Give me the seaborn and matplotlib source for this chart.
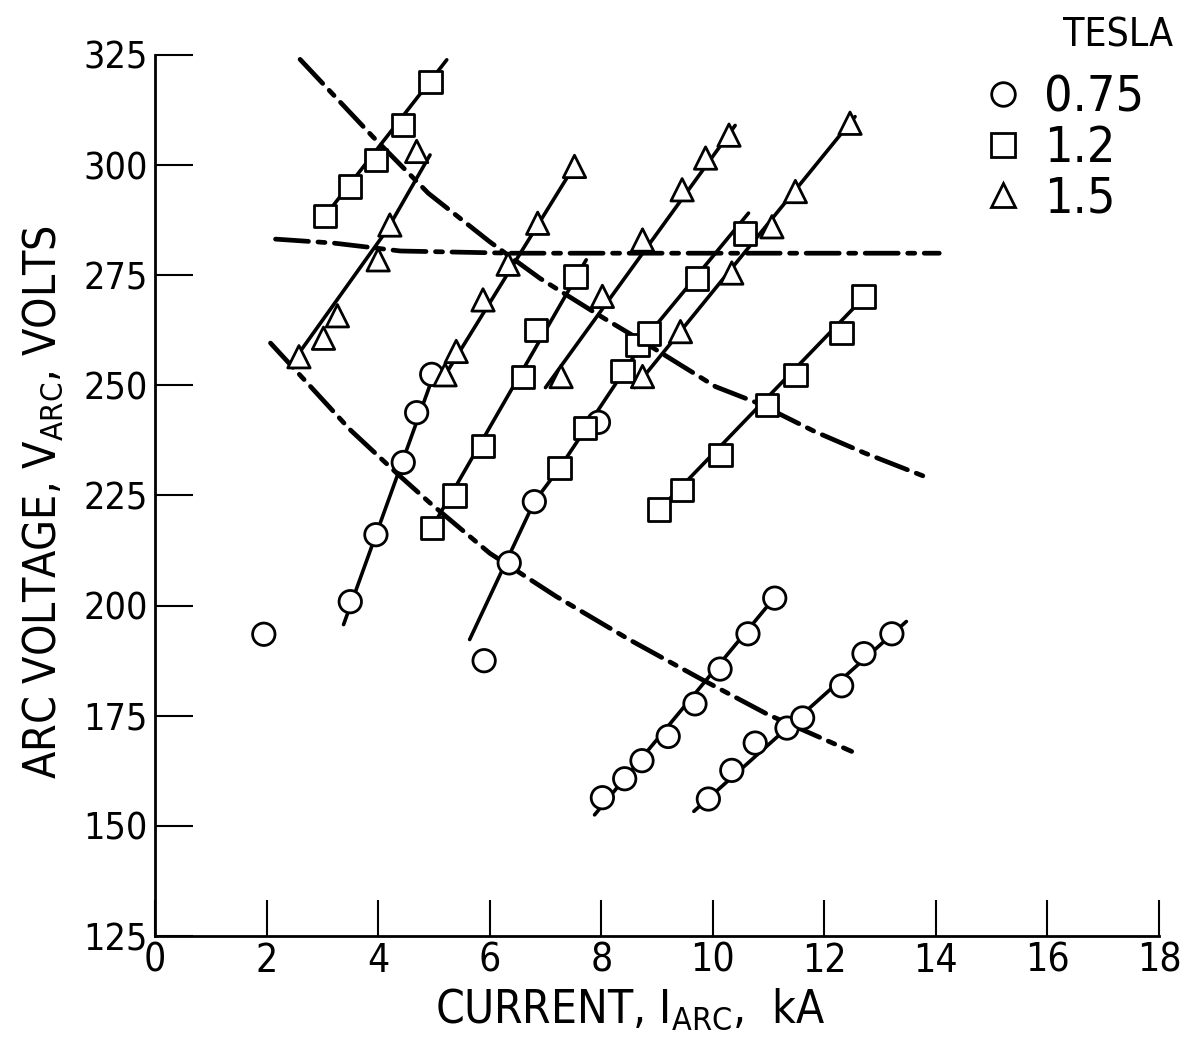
import numpy as np
import pandas as pd
import seaborn as sns
import matplotlib
matplotlib.use("Agg")
import matplotlib.pyplot as plt
from matplotlib import font_manager
from matplotlib.lines import Line2D

# ---------------- data ----------------
tesla_levels = ["0.75", "1.2", "1.5"]
tesla_markers = ["o", "s", "^"]

# 0.75 T (circles)
circ_single_x = [1.95, 5.90]
circ_single_y = [193.5, 187.5]
circ_a_x = [3.50, 3.96, 4.45, 4.69, 4.96]
circ_a_y = [200.9, 216.1, 232.5, 243.8, 252.5]
circ_b_x = [6.35, 6.80, 7.95]
circ_b_y = [209.7, 223.6, 241.6]
circ_c_x = [8.02, 8.42, 8.73, 9.20, 9.68, 10.13, 10.63, 11.11]
circ_c_y = [156.4, 160.7, 164.8, 170.3, 177.7, 185.6, 193.6, 201.7]
circ_d_x = [9.92, 10.34, 10.76, 11.33, 11.61, 12.31, 12.71, 13.21]
circ_d_y = [156.1, 162.6, 168.8, 172.2, 174.5, 181.8, 189.1, 193.6]

# 1.2 T (squares)
sq_a_x = [3.05, 3.50, 3.96, 4.45, 4.94]
sq_a_y = [288.5, 295.1, 301.2, 309.1, 318.9]
sq_b_x = [4.96, 5.37, 5.88, 6.60, 6.83, 7.54]
sq_b_y = [217.6, 225.0, 236.3, 251.9, 262.6, 274.7]
sq_c_x = [7.25, 7.71, 8.38, 8.65, 8.86, 9.72, 10.58]
sq_c_y = [231.2, 240.3, 253.2, 259.2, 261.8, 274.3, 284.5]
sq_d_x = [9.04, 9.45, 10.14, 10.97, 11.48, 12.31, 12.70]
sq_d_y = [221.8, 226.3, 234.2, 245.6, 252.4, 261.9, 270.2]

# 1.5 T (triangles)
tri_a_x = [2.58, 3.02, 3.27, 4.00, 4.21, 4.69]
tri_a_y = [256.5, 260.7, 265.8, 278.5, 286.4, 303.1]
tri_b_x = [5.20, 5.40, 5.88, 6.33, 6.86, 7.52]
tri_b_y = [252.4, 257.7, 269.4, 277.5, 286.8, 299.7]
tri_c_x = [7.28, 8.02, 8.74, 9.45, 9.87, 10.29]
tri_c_y = [252.0, 270.2, 283.0, 294.4, 301.6, 306.8]
tri_d_x = [8.74, 9.42, 10.34, 11.06, 11.48, 12.46]
tri_d_y = [252.0, 262.2, 275.5, 286.0, 294.0, 309.5]

# solid faired lines through the groups
fit_circ_a_x = [3.38, 5.05]
fit_circ_a_y = [195.7, 254.3]
fit_circ_b_x = [5.64, 6.80, 7.25, 8.86, 10.64]
fit_circ_b_y = [192.3, 223.6, 231.2, 261.8, 289.1]
fit_circ_c_x = [7.88, 11.15]
fit_circ_c_y = [152.5, 202.5]
fit_circ_d_x = [9.66, 13.47]
fit_circ_d_y = [153.3, 196.4]
fit_sq_a_x = [3.05, 5.23]
fit_sq_a_y = [288.5, 323.9]
fit_sq_b_x = [4.96, 7.73]
fit_sq_b_y = [217.6, 278.5]
fit_sq_d_x = [9.04, 12.75]
fit_sq_d_y = [221.8, 270.5]
fit_tri_a_x = [2.45, 4.16, 4.93]
fit_tri_a_y = [255.0, 285.3, 302.3]
fit_tri_b_x = [5.15, 7.55]
fit_tri_b_y = [251.3, 300.5]
fit_tri_c_x = [7.00, 10.40]
fit_tri_c_y = [249.5, 309.0]
fit_tri_d_x = [8.60, 12.55]
fit_tri_d_y = [249.5, 311.0]

# dash-dot cross curves
dash_top_x = [2.60, 3.90, 4.90, 6.00, 6.90, 8.00, 8.70, 10.05, 10.80, 11.83, 12.73, 13.80]
dash_top_y = [324.0, 306.5, 293.6, 282.6, 274.3, 265.6, 260.3, 249.7, 246.0, 239.5, 234.6, 229.3]
dash_mid_x = [2.16, 3.20, 4.40, 6.40, 14.06]
dash_mid_y = [283.2, 282.3, 280.5, 280.0, 280.0]
dash_low_x = [2.07, 2.79, 3.50, 4.33, 4.93, 6.00, 7.19, 8.50, 9.75, 11.00, 12.49]
dash_low_y = [259.6, 249.7, 239.9, 230.1, 223.3, 211.9, 202.1, 192.3, 183.6, 175.2, 166.9]

x_ticks = [0, 2, 4, 6, 8, 10, 12, 14, 16, 18]
y_ticks = [125, 150, 175, 200, 225, 250, 275, 300, 325]

# ---------------- build tables ----------------
point_groups = [
    ("0.75", circ_single_x, circ_single_y), ("0.75", circ_a_x, circ_a_y),
    ("0.75", circ_b_x, circ_b_y), ("0.75", circ_c_x, circ_c_y),
    ("0.75", circ_d_x, circ_d_y),
    ("1.2", sq_a_x, sq_a_y), ("1.2", sq_b_x, sq_b_y),
    ("1.2", sq_c_x, sq_c_y), ("1.2", sq_d_x, sq_d_y),
    ("1.5", tri_a_x, tri_a_y), ("1.5", tri_b_x, tri_b_y),
    ("1.5", tri_c_x, tri_c_y), ("1.5", tri_d_x, tri_d_y),
]
rows = []
for t, xs, ys in point_groups:
    for xv, yv in zip(xs, ys):
        rows.append({"current": xv, "voltage": yv, "tesla": t})
df = pd.DataFrame(rows)

solid_lines = [
    (fit_circ_a_x, fit_circ_a_y), (fit_circ_b_x, fit_circ_b_y),
    (fit_circ_c_x, fit_circ_c_y), (fit_circ_d_x, fit_circ_d_y),
    (fit_sq_a_x, fit_sq_a_y), (fit_sq_b_x, fit_sq_b_y), (fit_sq_d_x, fit_sq_d_y),
    (fit_tri_a_x, fit_tri_a_y), (fit_tri_b_x, fit_tri_b_y),
    (fit_tri_c_x, fit_tri_c_y), (fit_tri_d_x, fit_tri_d_y),
]
dash_lines = [(dash_top_x, dash_top_y), (dash_mid_x, dash_mid_y), (dash_low_x, dash_low_y)]

# ---------------- style ----------------
sns.set_theme(style="ticks")
avail = {f.name for f in font_manager.fontManager.ttflist}
if "Liberation Sans Narrow" in avail:
    FONT = "Liberation Sans Narrow"
    plt.rcParams["font.family"] = [FONT, "DejaVu Sans"]
else:
    FONT = "DejaVu Sans"
    plt.rcParams["font.family"] = ["DejaVu Sans"]
    plt.rcParams["font.stretch"] = "condensed"
plt.rcParams["mathtext.fontset"] = "custom"
plt.rcParams["mathtext.rm"] = FONT
plt.rcParams["mathtext.it"] = FONT
plt.rcParams["mathtext.bf"] = FONT
plt.rcParams["text.color"] = "black"
plt.rcParams["axes.labelcolor"] = "black"

fig = plt.figure(figsize=(11.89, 10.51), dpi=100, facecolor="white")
ax = fig.add_axes([0.1304, 0.1094, 0.8444, 0.8383])
ax.set_facecolor("white")

for lx, ly in solid_lines:
    sns.lineplot(x=lx, y=ly, color="black", linewidth=2.6, sort=False,
                 estimator=None, ax=ax, legend=False, zorder=2)
for lx, ly in dash_lines:
    sns.lineplot(x=lx, y=ly, color="black", linewidth=3.4, sort=False,
                 estimator=None, ax=ax, legend=False, zorder=2,
                 linestyle=(0, (7, 2, 1.5, 2)), dash_capstyle="round")

sns.scatterplot(data=df, x="current", y="voltage", style="tesla",
                style_order=tesla_levels,
                markers=dict(zip(tesla_levels, tesla_markers)),
                color="white", edgecolor="black", linewidth=2.0, s=260,
                legend=False, ax=ax, zorder=3)

ax.set_xlim(0, 18)
ax.set_ylim(125, 325)
ax.set_xticks(x_ticks)
ax.set_yticks(y_ticks)
ax.tick_params(axis="x", direction="in", length=26, width=1.5, pad=4,
               labelsize=28, colors="black")
ax.tick_params(axis="y", direction="in", length=27, width=1.5, pad=5,
               labelsize=27, colors="black")
for s in ["top", "right"]:
    ax.spines[s].set_visible(False)
for s in ["left", "bottom"]:
    ax.spines[s].set_linewidth(2.0)
    ax.spines[s].set_color("black")

ax.set_xlabel(r"CURRENT, I$_{\rm ARC}$,  kA", fontsize=33)
ax.set_ylabel(r"ARC VOLTAGE, V$_{\rm ARC}$, VOLTS", fontsize=32)
ax.xaxis.set_label_coords(0.473, -0.058)
ax.yaxis.set_label_coords(-0.09, 0.493)

handles = [Line2D([], [], marker=m, linestyle="none", markerfacecolor="white",
                  markeredgecolor="black", markeredgewidth=2.0, markersize=17)
           for m in tesla_markers]
ax.legend(handles, tesla_levels, loc="upper left", bbox_to_anchor=(0.832, 0.93),
          bbox_transform=fig.transFigure, frameon=False, borderpad=0,
          borderaxespad=0, handlelength=0.55, handletextpad=0.55,
          labelspacing=0.05, fontsize=36)
fig.text(0.94, 0.966, "TESLA", ha="center", va="center", fontsize=28)

fig.savefig("out.png", dpi=100, facecolor="white")
